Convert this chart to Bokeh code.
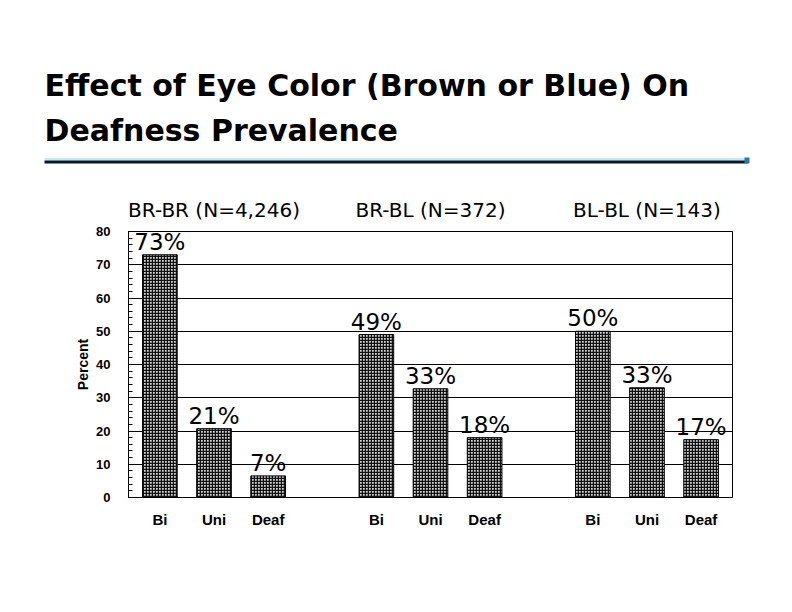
from bokeh.plotting import figure
from bokeh.layouts import column
from bokeh.models import (ColumnDataSource, FactorRange, Range1d, LabelSet,
                          SingleIntervalTicker, CategoricalAxis)
from bokeh.core.properties import value
from bokeh.embed import file_html
from bokeh.resources import INLINE

# chart data
title_lines = ["Effect of Eye Color (Brown or Blue) On", "Deafness Prevalence"]
groups = ["BR-BR (N=4,246)", "BR-BL (N=372)", "BL-BL (N=143)"]
outcomes = ["Bi", "Uni", "Deaf"]
br_br = [73, 20.7, 6.5]
br_bl = [49, 32.7, 18]
bl_bl = [50, 33, 17.4]
br_br_labels = ["73%", "21%", "7%"]
br_bl_labels = ["49%", "33%", "18%"]
bl_bl_labels = ["50%", "33%", "17%"]
y_max = 80
y_step = 10
y_label = "Percent"

W = 776
HEAD_H = 170

# --- slide header: title and rule, in pixel coordinates ---
head = figure(width=W, height=HEAD_H, x_range=Range1d(0, W), y_range=Range1d(HEAD_H, 0),
              x_axis_location=None, y_axis_location=None,
              min_border=0, toolbar_location=None, output_backend="svg")
head.outline_line_color = None
head.grid.grid_line_color = None
head.text(x=[44, 44], y=[85, 130], text=title_lines,
          text_font=value("DejaVu Sans"), text_font_style="bold",
          text_font_size="30px", text_color="black", text_baseline="alphabetic")
head.quad(left=[44], right=[748], top=[157.5], bottom=[160], fill_color="#c7e9f6", line_color=None)
head.quad(left=[44], right=[748], top=[160], bottom=[163], fill_color="#07182a", line_color=None)
head.quad(left=[744], right=[749], top=[157], bottom=[162.5], fill_color="#2b78a8", line_color=None)

# --- chart ---
factors = [(g, o) for g in groups for o in outcomes]
bars = ColumnDataSource(data=dict(
    x=factors,
    top=br_br + br_bl + bl_bl,
    label=br_br_labels + br_bl_labels + bl_bl_labels,
))

p = figure(
    x_range=FactorRange(*factors, factor_padding=0.0, group_padding=1.0,
                        range_padding=0.08, range_padding_units="absolute"),
    y_range=Range1d(0, y_max),
    width=W, height=426,
    min_border_left=128, min_border_right=44,
    min_border_top=61, min_border_bottom=99,
    toolbar_location=None, output_backend="svg",
)
p.background_fill_color = "white"
p.border_fill_color = "white"
p.outline_line_color = "black"
p.outline_line_width = 1

p.vbar(x="x", top="top", width=0.64, source=bars,
       fill_color="#d4d4d4", line_color="black", line_width=1,
       hatch_pattern="+", hatch_color="#111111", hatch_scale=3, hatch_weight=1.5)

# value labels over bars
p.add_layout(LabelSet(x="x", y="top", text="label", source=bars,
                      text_font=value("DejaVu Sans"), text_font_size="23px",
                      text_color="black", text_align="center",
                      text_baseline="alphabetic", y_offset=5))

# group headings on an axis above the frame
top_axis = CategoricalAxis()
top_axis.major_label_text_font_size = "1px"
top_axis.major_label_text_color = None
top_axis.major_label_standoff = 10
top_axis.major_tick_line_color = None
top_axis.major_tick_out = 0
top_axis.axis_line_color = None
top_axis.separator_line_color = None
top_axis.group_text_font = "DejaVu Sans"
top_axis.group_text_font_style = "normal"
top_axis.group_text_font_size = "20px"
top_axis.group_text_color = "black"
p.add_layout(top_axis, "above")

# y axis
p.yaxis.ticker = SingleIntervalTicker(interval=y_step, num_minor_ticks=5)
p.yaxis.axis_label = y_label
p.yaxis.axis_label_text_font = "Liberation Sans"
p.yaxis.axis_label_text_font_style = "bold"
p.yaxis.axis_label_text_font_size = "14px"
p.yaxis.axis_label_text_color = "black"
p.yaxis.axis_label_standoff = 2
p.yaxis.major_label_text_font = "Liberation Sans"
p.yaxis.major_label_text_font_style = "bold"
p.yaxis.major_label_text_font_size = "13px"
p.yaxis.major_label_text_color = "black"
p.yaxis.major_label_standoff = 18
p.yaxis.major_tick_out = 0
p.yaxis.major_tick_in = 5
p.yaxis.minor_tick_out = 0
p.yaxis.minor_tick_in = 4
p.yaxis.axis_line_color = "black"
p.yaxis.major_tick_line_color = "black"
p.yaxis.minor_tick_line_color = "black"

# bottom axis: only Bi/Uni/Deaf shown
bottom_axis = p.below[0]
bottom_axis.major_label_text_font = "Liberation Sans"
bottom_axis.major_label_text_font_style = "bold"
bottom_axis.major_label_text_font_size = "15px"
bottom_axis.major_label_text_color = "black"
bottom_axis.major_label_standoff = 13
bottom_axis.major_tick_line_color = None
bottom_axis.major_tick_out = 0
bottom_axis.group_text_color = None
bottom_axis.separator_line_color = None
bottom_axis.axis_line_color = "black"

p.ygrid.grid_line_color = "black"
p.xgrid.grid_line_color = None

# header wrapped on its own so its frame is not aligned with the chart's
layout = column(column(head), p, spacing=0)
open("out.html", "w").write(file_html(layout, INLINE))
